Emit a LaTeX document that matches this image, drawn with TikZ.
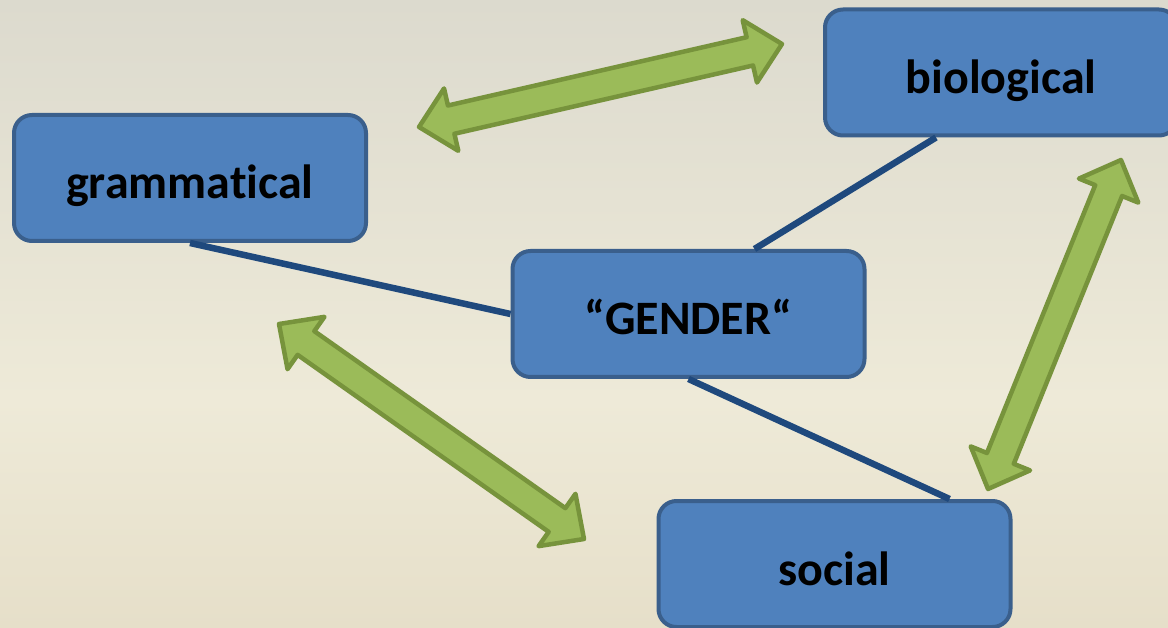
\documentclass[tikz,border=0pt]{standalone}
\usepackage{fontspec}
\setmainfont{Carlito}[Ligatures=NoCommon]
\usetikzlibrary{calc}
\definecolor{boxfill}{HTML}{4F81BD}
\definecolor{boxline}{HTML}{3A5F8C}
\definecolor{conline}{HTML}{1F497D}
\definecolor{arrfill}{HTML}{9BBB59}
\definecolor{arrline}{HTML}{77933C}
\definecolor{bgtop}{RGB}{220,218,206}
\definecolor{bgmid}{RGB}{238,234,216}
\definecolor{bgbot}{RGB}{230,223,201}
\tikzset{
  gbox/.style={draw=boxline, line width=4pt, fill=boxfill, rounded corners=18pt,
    minimum width=352pt, minimum height=126pt, inner sep=0pt,
    text height=42pt, text depth=0pt,
    font=\fontsize{48}{52}\selectfont\bfseries, text=black},
  conn/.style={draw=conline, line width=6.5pt},
  blockarr/.style={fill=arrfill, draw=arrline, line width=4.5pt, line join=round}
}
\newcommand{\dblarrow}[2]{%
  \coordinate (h1) at ($(#1)!33pt!(#2)$);
  \coordinate (h2) at ($(#2)!33pt!(#1)$);
  \path[blockarr] (#1) -- ($(h1)!32pt!90:(#1)$) -- ($(h1)!14.5pt!90:(#1)$)
     -- ($(h2)!14.5pt!-90:(#2)$) -- ($(h2)!32pt!-90:(#2)$) -- (#2)
     -- ($(h2)!32pt!90:(#2)$) -- ($(h2)!14.5pt!90:(#2)$)
     -- ($(h1)!14.5pt!-90:(#1)$) -- ($(h1)!32pt!-90:(#1)$) -- cycle;
}
\begin{document}
\begin{tikzpicture}[x=1pt,y=-1pt]
\useasboundingbox (0,0) rectangle (1168,628);
\clip (0,0) rectangle (1168,628);
\shade[top color=bgtop,bottom color=bgmid] (0,0) rectangle (1168,401);
\shade[top color=bgmid,bottom color=bgbot] (0,400) rectangle (1168,628);

\node[gbox] (gram) at (190,178) {grammatical};
\node[gbox] (bio) at (1001,72.5) {biological};
\node[gbox] (gender) at (688.5,314) {“GENDER“};
\node[gbox] (social) at (834.5,564) {social};

\draw[conn] (gram.south) -- (gender.west);
\draw[conn] ($(gender.north)+(66,0)$) -- ($(bio.south)+(-65,0)$);
\draw[conn] (gender.south) -- ($(social.north)+(115,0)$);

\coordinate (a1s) at (419,127);
\coordinate (a1e) at (782,44);
\coordinate (a2s) at (1121,160);
\coordinate (a2e) at (988,489);
\coordinate (a3s) at (279,324);
\coordinate (a3e) at (584,539);
\dblarrow{a1s}{a1e}
\dblarrow{a2s}{a2e}
\dblarrow{a3s}{a3e}
\end{tikzpicture}
\end{document}
